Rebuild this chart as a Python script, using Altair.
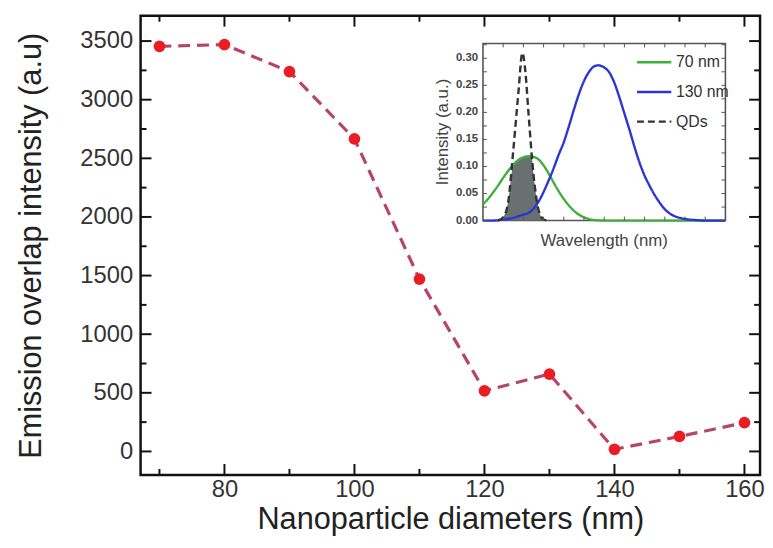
import altair as alt
import pandas as pd

# ---------------- main series ----------------
diameters = [70, 80, 90, 100, 110, 120, 130, 140, 150, 160]
overlap = [3455, 3470, 3240, 2665, 1470, 517, 660, 18, 128, 245]

x_major = [80, 100, 120, 140, 160]
x_minor = [70, 90, 110, 130, 150]
y_major = [0, 500, 1000, 1500, 2000, 2500, 3000, 3500]
y_minor = [250, 750, 1250, 1750, 2250, 2750, 3250]

# ---------------- inset series ----------------
qd_wl = [495, 500, 505, 510, 515, 519, 522, 525, 530, 535, 540, 545]
qd_val = [0.0, 0.006, 0.035, 0.13, 0.235, 0.31, 0.275, 0.2, 0.085, 0.02, 0.002, 0.0]

g_wl = [480, 485, 490, 495, 500, 505, 510, 515, 520, 525, 528, 530, 535, 540, 545,
        550, 555, 560, 565, 570, 575, 580, 585, 590, 600, 650, 720]
g_val = [0.03, 0.04, 0.052, 0.065, 0.079, 0.092, 0.103, 0.112, 0.117, 0.119, 0.119,
         0.118, 0.113, 0.102, 0.087, 0.070, 0.054, 0.040, 0.028, 0.018, 0.011, 0.006,
         0.003, 0.001, 0.0, 0.0, 0.0]

b_wl = [480, 490, 500, 505, 510, 515, 520, 525, 530, 535, 540, 545, 550, 555, 560,
        565, 570, 575, 580, 585, 590, 594, 600, 605, 610, 615, 620, 625, 630, 635,
        640, 645, 650, 655, 660, 665, 670, 675, 680, 690, 700, 720]
b_val = [0.0, 0.0, 0.002, 0.003, 0.005, 0.008, 0.011, 0.014, 0.022, 0.035, 0.053,
         0.074, 0.097, 0.122, 0.145, 0.174, 0.205, 0.234, 0.258, 0.275, 0.285, 0.287,
         0.283, 0.274, 0.255, 0.228, 0.198, 0.168, 0.136, 0.107, 0.083, 0.064, 0.047,
         0.033, 0.021, 0.013, 0.008, 0.005, 0.003, 0.001, 0.0, 0.0]

ov_wl = [495, 500, 505, 510, 515, 519, 522, 525, 528, 530, 535, 540, 545]
ov_val = [0.0, 0.006, 0.035, 0.103, 0.112, 0.116, 0.118, 0.119, 0.119, 0.085, 0.02, 0.002, 0.0]

series_names = ["70 nm", "130 nm", "QDs"]
inset_y_ticks = [0.0, 0.025, 0.05, 0.075, 0.1, 0.125, 0.15, 0.175, 0.2, 0.225, 0.25, 0.275, 0.3, 0.325]
inset_y_labels = [0.0, 0.05, 0.1, 0.15, 0.2, 0.25, 0.3]
inset_x_ticks = [500, 520, 540, 560, 580, 600, 620, 640, 660, 680, 700]

# ---------------- layout ----------------
W, H = 626, 464
IX0, IX1 = 346, 591
IY0, IY1 = 207, 28
FONT = "Liberation Sans"

main_df = pd.DataFrame({"d": diameters, "v": overlap})
xs = alt.Scale(domain=[67.1, 162.4], nice=False, zero=False)
ys = alt.Scale(domain=[-200, 3716], nice=False, zero=False)

x_axis = alt.Axis(values=x_major, format="d", title="Nanoparticle diameters (nm)",
                  labelPadding=3, titlePadding=3)
y_axis = alt.Axis(values=y_major, format="d", title="Emission overlap intensity (a.u)",
                  labelPadding=8, titlePadding=33)

line = alt.Chart(main_df).mark_line(
    color="#b5456a", strokeWidth=3.2, strokeDash=[12, 7]
).encode(
    x=alt.X("d:Q", scale=xs, axis=x_axis),
    y=alt.Y("v:Q", scale=ys, axis=y_axis),
)
points = alt.Chart(main_df).mark_circle(color="#ec1c24", size=140, opacity=1).encode(
    x=alt.X("d:Q", scale=xs, axis=x_axis),
    y=alt.Y("v:Q", scale=ys, axis=y_axis),
)


def xticks(vals, length, scale, y0, direction, color, sw, axis=None):
    return alt.Chart(pd.DataFrame({"d": vals})).mark_rule(color=color, strokeWidth=sw).encode(
        x=alt.X("d:Q", scale=scale, axis=axis),
        y=alt.value(y0), y2=alt.value(y0 + direction * length),
    )


def yticks(vals, length, scale, x0, direction, color, sw, axis=None):
    return alt.Chart(pd.DataFrame({"v": vals})).mark_rule(color=color, strokeWidth=sw).encode(
        y=alt.Y("v:Q", scale=scale, axis=axis),
        x=alt.value(x0), x2=alt.value(x0 + direction * length),
    )


main_ticks = [
    xticks(x_major, 11, xs, H, -1, "#111", 2, x_axis),
    xticks(x_minor, 6, xs, H, -1, "#111", 2, x_axis),
    xticks(x_major, 11, xs, 0, 1, "#111", 2, x_axis),
    xticks(x_minor, 6, xs, 0, 1, "#111", 2, x_axis),
    yticks(y_major, 11, ys, 0, 1, "#111", 2, y_axis),
    yticks(y_minor, 6, ys, 0, 1, "#111", 2, y_axis),
    yticks(y_major, 11, ys, W, -1, "#111", 2, y_axis),
    yticks(y_minor, 6, ys, W, -1, "#111", 2, y_axis),
]

main = alt.layer(line, points, *main_ticks)

# ---------------- inset ----------------
ixs = alt.Scale(domain=[480, 720], range=[IX0, IX1], nice=False, zero=False)
iys = alt.Scale(domain=[0, 0.3274], range=[IY0, IY1], nice=False, zero=False)

curves_df = pd.concat([
    pd.DataFrame({"series": series_names[0], "wl": g_wl, "val": g_val}),
    pd.DataFrame({"series": series_names[1], "wl": b_wl, "val": b_val}),
    pd.DataFrame({"series": series_names[2], "wl": qd_wl, "val": qd_val}),
])
ov_df = pd.DataFrame({"wl": ov_wl, "val": ov_val})
one = pd.DataFrame({"a": [0]})

frame = alt.Chart(one).mark_rect(fillOpacity=0, stroke="#555", strokeWidth=1.6).encode(
    x=alt.X(datum=480, type="quantitative", scale=ixs, axis=None),
    x2=alt.X2(datum=720),
    y=alt.Y(datum=0, type="quantitative", scale=iys, axis=None),
    y2=alt.Y2(datum=0.3274),
)

fill = alt.Chart(ov_df).mark_area(color="#687070", interpolate="monotone", opacity=1).encode(
    x=alt.X("wl:Q", scale=ixs, axis=None),
    y=alt.Y("val:Q", scale=iys, axis=None),
)

leg = alt.Legend(title=None, orient="none", legendX=500, legendY=28,
                 symbolType="stroke", symbolSize=1200, symbolStrokeWidth=2.5,
                 labelFont=FONT, labelFontSize=16, labelColor="#333",
                 rowPadding=3, labelOffset=3, padding=0)

curves = alt.Chart(curves_df).mark_line(interpolate="monotone", strokeWidth=2.4).encode(
    x=alt.X("wl:Q", scale=ixs, axis=None),
    y=alt.Y("val:Q", scale=iys, axis=None),
    color=alt.Color("series:N", scale=alt.Scale(domain=series_names,
                                                range=["#3fae3a", "#2a35d6", "#333333"]),
                    legend=leg),
    strokeDash=alt.StrokeDash("series:N", scale=alt.Scale(domain=series_names,
                                                          range=[[1, 0], [1, 0], [7, 4]]),
                              legend=leg),
    detail="series:N",
)

inset_ticks = [
    xticks(inset_x_ticks, 4, ixs, IY0, -1, "#555", 1),
    xticks(inset_x_ticks, 4, ixs, IY1, 1, "#555", 1),
    yticks(inset_y_ticks, 4, iys, IX0, 1, "#555", 1),
    yticks(inset_y_ticks, 4, iys, IX1, -1, "#555", 1),
]

ylabels = alt.Chart(pd.DataFrame({"t": inset_y_labels})).mark_text(
    align="right", baseline="middle", dx=-5, font=FONT, fontSize=11.5,
    fontWeight="bold", color="#444"
).encode(
    y=alt.Y("t:Q", scale=iys, axis=None),
    x=alt.value(IX0),
    text=alt.Text("t:Q", format=".2f"),
)

xtitle = alt.Chart(one).mark_text(
    align="center", baseline="middle", font=FONT, fontSize=17, color="#444"
).encode(x=alt.value((IX0 + IX1) / 2), y=alt.value(IY0 + 21),
         text=alt.value("Wavelength (nm)"))

ytitle = alt.Chart(one).mark_text(
    align="center", baseline="middle", font=FONT, fontSize=17, color="#444", angle=270
).encode(x=alt.value(IX0 - 40), y=alt.value((IY0 + IY1) / 2),
         text=alt.value("Intensity (a.u.)"))

inset = alt.layer(frame, fill, curves, *inset_ticks, ylabels, xtitle, ytitle)

chart = alt.layer(main, inset).resolve_scale(
    x="independent", y="independent"
).properties(
    width=W, height=H,
    padding={"left": 134, "top": 5, "right": 5, "bottom": 66},
    autosize=alt.AutoSizeParams(type="none"),
).configure_view(
    stroke="#111", strokeWidth=2.5
).configure_axis(
    labelFont=FONT, titleFont=FONT, labelColor="#333", titleColor="#222",
    labelFontSize=24, titleFontSize=31, titleFontWeight="normal",
    grid=False, ticks=False, domain=False,
)

chart.save("out.html", embed_options={"renderer": "svg", "actions": False})
